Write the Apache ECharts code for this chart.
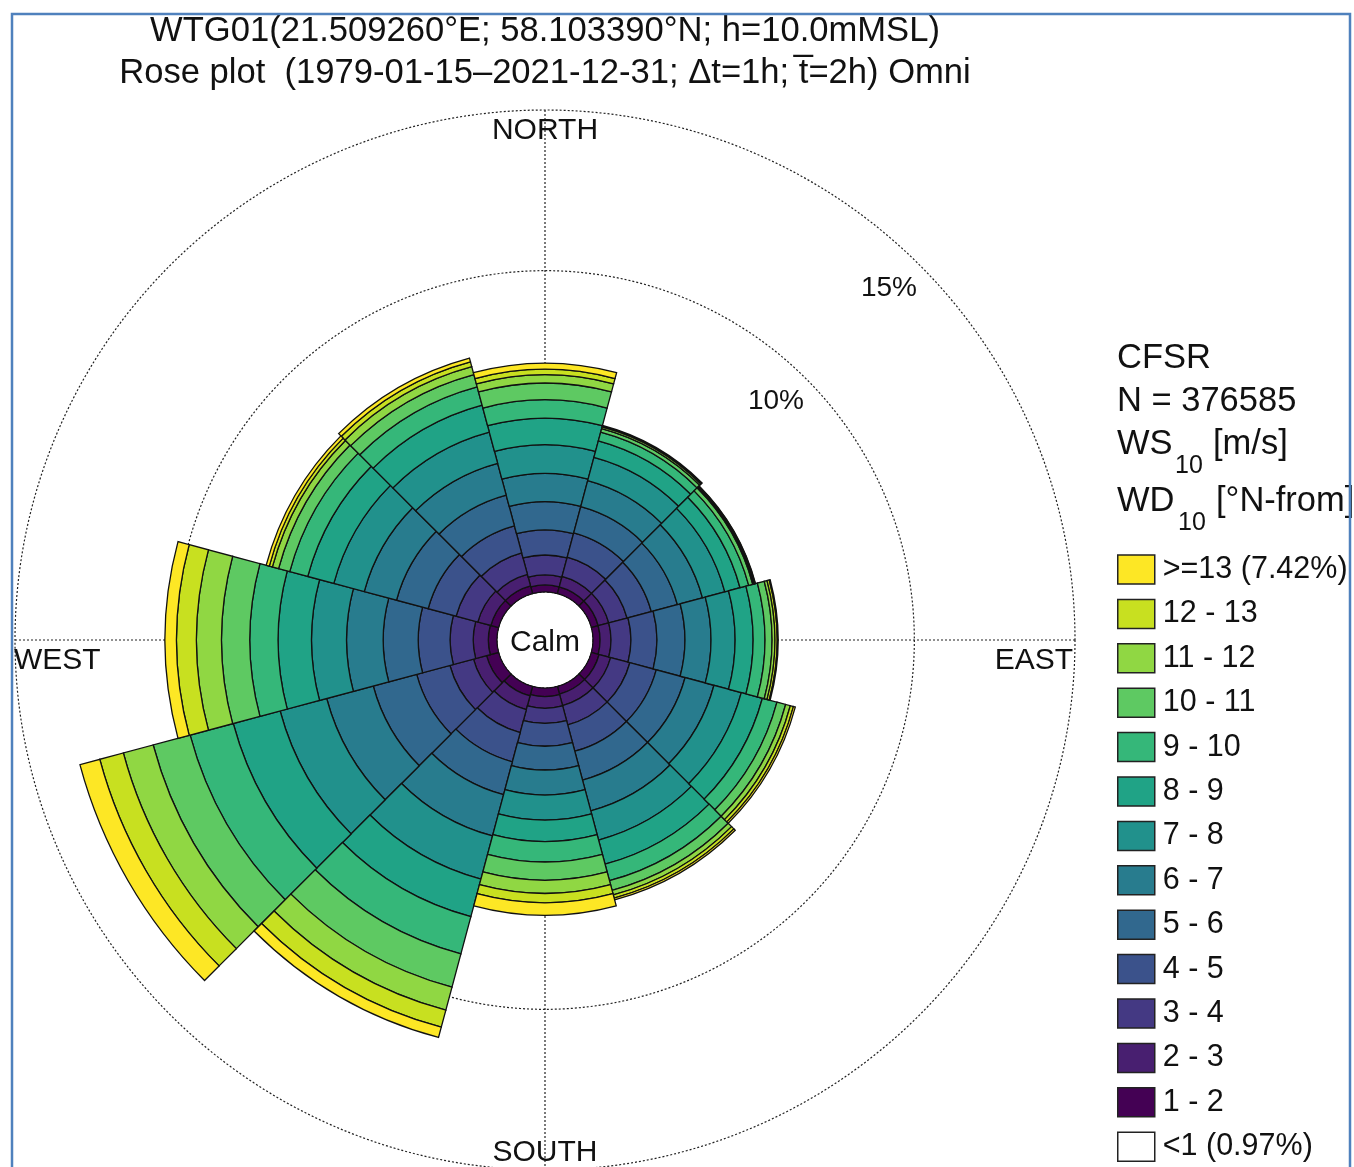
<!DOCTYPE html>
<html>
<head>
<meta charset="utf-8">
<script src="https://cdn.jsdelivr.net/npm/echarts@6/dist/echarts.min.js"></script>
<style>html,body{margin:0;padding:0;background:#fff}#c{width:1354px;height:1167px}</style>
</head>
<body>
<div id="c"></div>
<script>
// Direction sectors (degrees, from North clockwise)
const directions = ['N','NNE','ENE','E','ESE','SSE','S','SSW','WSW','W','WNW','NNW'];
// Speed bins (legend order is reversed)
const speedBins = ['1 - 2','2 - 3','3 - 4','4 - 5','5 - 6','6 - 7','7 - 8','8 - 9','9 - 10','10 - 11','11 - 12','12 - 13','>=13 (7.42%)'];
const calmLabel = '<1 (0.97%)';
// Frequency [%] for each speed bin (1-2 ... >=13), one array per direction sector
const sN   = [0.22,0.31,0.62,0.78,0.88,0.88,0.89,0.83,0.57,0.52,0.26,0.17,0.19];
const sNNE = [0.22,0.34,0.62,0.78,0.84,0.84,0.75,0.53,0.28,0.12,0.05,0.03,0.02];
const sENE = [0.22,0.34,0.59,0.78,0.84,0.81,0.72,0.49,0.28,0.13,0.04,0.04,0.01];
const sE   = [0.22,0.34,0.62,0.81,0.87,0.81,0.75,0.56,0.37,0.22,0.09,0.07,0.03];
const sESE = [0.25,0.37,0.62,0.85,0.93,0.93,0.88,0.68,0.47,0.28,0.15,0.10,0.06];
const sSSE = [0.25,0.37,0.62,0.85,0.93,0.99,0.94,0.78,0.53,0.31,0.15,0.10,0.06];
const sS   = [0.27,0.36,0.47,0.71,0.74,0.78,0.78,0.67,0.63,0.57,0.41,0.29,0.39];
const sSSW = [0.31,0.44,0.74,0.94,1.06,1.33,1.39,1.21,1.20,1.07,0.74,0.55,0.33];
const sWSW = [0.39,0.42,0.76,1.07,1.40,1.50,1.50,1.51,1.39,1.19,0.96,0.76,0.64];
const sW   = [0.27,0.47,0.72,0.99,1.09,1.14,1.09,1.04,0.88,0.88,0.78,0.62,0.36];
const sWNW = [0.25,0.42,0.70,0.90,1.02,1.04,0.98,0.84,0.58,0.36,0.20,0.10,0.10];
const sNNW = [0.25,0.37,0.69,0.87,0.99,1.03,1.00,0.87,0.59,0.40,0.25,0.16,0.12];
const sectors = [sN,sNNE,sENE,sE,sESE,sSSE,sS,sSSW,sWSW,sW,sWNW,sNNW];
// Radial ticks
const radialTicks = [0,5,10,15];
const tickLabels = ['10%','15%'];
const compassLabels = ['NORTH','EAST','SOUTH','WEST'];

const colors = ['#440154','#481f70','#443983','#3b528b','#31688e','#287c8e','#21918c','#20a386','#35b779','#5ec962','#90d743','#c8e020','#fde725'];

const FONT = '"Liberation Sans", Arial, sans-serif';
const CX = 545, CY = 640, R0 = 48, R1 = 530;

const chart = echarts.init(document.getElementById('c'), null, {renderer:'canvas'});

const series = speedBins.map((name, b) => ({
  type: 'bar', name: name, coordinateSystem: 'polar', polarIndex: 0, stack: 'ws',
  barCategoryGap: '0%', barGap: '0%',
  data: sectors.map(s => s[b]),
  itemStyle: {color: colors[b], borderColor: '#111', borderWidth: 1.3},
  emphasis: {disabled: true}, z: 3
}));
series.push({type:'bar', name: calmLabel, coordinateSystem:'polar', polarIndex:0, stack:'ws',
  barCategoryGap:'0%', barGap:'0%', data: [],
  itemStyle:{color:'#ffffff', borderColor:'#111', borderWidth:1.3}});

const legendData = speedBins.slice().reverse().concat([calmLabel]);

const txt = (t, x, y, size, align, vAlign) => ({
  type:'text', x:x, y:y, z:10,
  style:{text:t, font: size + 'px ' + FONT, fill:'#111', align:align||'center', verticalAlign:vAlign||'middle'}
});

const option = {
  backgroundColor: '#fff',
  animation: false,
  polar: [
    {center:[CX, CY], radius:[R0, R1]},
    {center:[CX, CY], radius:[R0, R1]}
  ],
  angleAxis: [
    {polarIndex:0, type:'category', data:directions, startAngle:105, clockwise:true,
     axisLine:{show:false}, axisTick:{show:false}, axisLabel:{show:false}, splitLine:{show:false}},
    {polarIndex:1, type:'value', min:0, max:360, interval:90, startAngle:90, clockwise:true,
     axisLine:{show:false}, axisTick:{show:false}, axisLabel:{show:false},
     splitLine:{show:true, lineStyle:{color:'#222', type:[2,2], width:1.2}}}
  ],
  radiusAxis: [
    {polarIndex:0, type:'value', min:0, max:15, axisLine:{show:false}, axisTick:{show:false}, axisLabel:{show:false}, splitLine:{show:false}},
    {polarIndex:1, type:'value', min:radialTicks[0], max:radialTicks[3], interval:5,
     axisLine:{show:false}, axisTick:{show:false}, axisLabel:{show:false},
     splitLine:{show:true, lineStyle:{color:'#222', type:[2,2], width:1.2}}}
  ],
  legend: {
    data: legendData, orient:'vertical', left:1117, top:554, padding:0, itemWidth:37, itemHeight:29, itemGap:13.4,
    icon:'rect', selectedMode:false,
    itemStyle:{borderColor:'#222', borderWidth:1.5},
    textStyle:{fontSize:30.5, fontFamily:FONT, color:'#111', padding:[0,0,0,3]}
  },
  series: series,
  graphic: [
    {type:'rect', z:20, shape:{x:12, y:14, width:1338, height:1175}, style:{fill:'none', stroke:'#4f81bd', lineWidth:2.5}},
    txt('WTG01(21.509260\u00b0E; 58.103390\u00b0N; h=10.0mMSL)', 545, 31, 34.6),
    txt('Rose plot  (1979-01-15\u20132021-12-31; \u0394t=1h; t\u0305=2h) Omni', 545, 73, 34.6),
    txt(compassLabels[0], 545, 131, 30),
    txt(compassLabels[1], 1073, 661, 30, 'right'),
    txt(compassLabels[2], 545, 1153, 30),
    txt(compassLabels[3], 14, 661, 30, 'left'),
    {type:'circle', z:8, shape:{cx:CX, cy:CY, r:R0-1}, style:{fill:'#fff'}},
    txt('Calm', 545, 643, 30),
    txt(tickLabels[0], 776, 401, 28),
    txt(tickLabels[1], 889, 288, 28),
    txt('CFSR', 1117, 358, 34.5, 'left'),
    txt('N = 376585', 1117, 401, 34.5, 'left'),
    txt('WS', 1117, 444, 34.5, 'left'),
    txt('10', 1175, 466, 25, 'left'),
    txt('[m/s]', 1213, 444, 34.5, 'left'),
    txt('WD', 1117, 501, 34.5, 'left'),
    txt('10', 1178, 523, 25, 'left'),
    txt('[\u00b0N-from]', 1216, 501, 34.5, 'left')
  ]
};
chart.setOption(option);
</script>
</body>
</html>
